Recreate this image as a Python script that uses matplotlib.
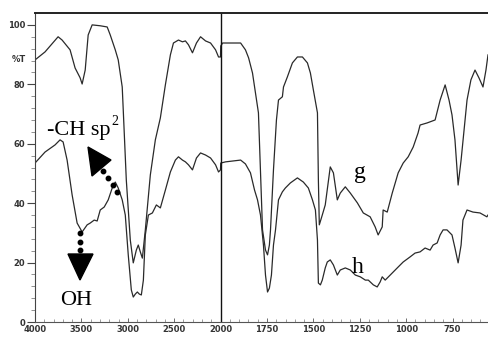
import numpy as np
import matplotlib
matplotlib.use("Agg")
import matplotlib.pyplot as plt
from matplotlib.ticker import FixedLocator, NullFormatter
from matplotlib.lines import Line2D
from matplotlib.patches import Polygon

# spectrum g (upper trace): wavenumber (cm-1) and %T
g_wn = [4000, 3892, 3751, 3708, 3622, 3568, 3514, 3492, 3459, 3427, 3384, 3297, 3222,
        3189, 3135, 3103, 3060, 3049, 3016, 2973, 2941, 2908, 2887, 2865, 2843, 2811,
        2757, 2703, 2649, 2595, 2541, 2508, 2454, 2411, 2379, 2346, 2303, 2260, 2216,
        2162, 2108, 2054, 2022, 2001, 1999, 1989, 1962, 1892, 1866, 1849, 1828, 1812,
        1796, 1774, 1758, 1747, 1737, 1731, 1715, 1699, 1688, 1667, 1661, 1640, 1613,
        1586, 1559, 1532, 1516, 1500, 1478, 1473, 1468, 1452, 1436, 1409, 1392, 1371,
        1355, 1328, 1301, 1263, 1231, 1194, 1167, 1151, 1129, 1124, 1102, 1075, 1043,
        1016, 989, 962, 936, 925, 887, 844, 817, 790, 769, 753, 737, 720, 704, 688,
        672, 651, 629, 608, 586, 570, 559]
g_t = [88.2, 90.9, 96.0, 94.9, 91.6, 85.5, 82.2, 80.1, 84.8, 96.6, 100.0, 99.7, 99.3,
       96.6, 91.6, 88.2, 79.1, 71.4, 47.8, 27.6, 19.9, 24.2, 25.9, 23.6, 21.5, 31.0,
       49.5, 61.3, 68.7, 79.8, 89.9, 93.9, 94.9, 94.3, 94.6, 93.3, 90.6, 93.9, 96.0,
       94.6, 93.9, 91.6, 89.2, 89.2, 92.9, 93.9, 93.9, 93.9, 91.6, 88.9, 83.8, 77.1,
       70.4, 31.0, 24.2, 22.6, 25.9, 31.0, 51.2, 68.0, 74.7, 75.8, 79.1, 82.5, 87.2,
       89.2, 89.2, 87.2, 83.8, 78.1, 70.4, 47.8, 32.7, 36.0, 39.4, 52.2, 50.2, 41.1,
       43.4, 45.5, 43.4, 40.1, 36.7, 35.4, 32.0, 29.3, 32.0, 37.7, 37.0, 43.4, 50.2,
       53.5, 55.6, 58.9, 63.6, 66.3, 67.0, 68.0, 74.7, 79.8, 74.7, 69.7, 61.3, 46.1,
       54.5, 64.6, 74.7, 81.5, 84.8, 82.2, 79.1, 84.8, 89.9]

# spectrum h (lower trace)
h_wn = [4000, 3892, 3784, 3730, 3697, 3654, 3600, 3546, 3492, 3438, 3405, 3362, 3330,
        3297, 3254, 3211, 3168, 3135, 3103, 3060, 3027, 2995, 2962, 2941, 2919, 2897,
        2876, 2854, 2832, 2811, 2778, 2735, 2692, 2649, 2595, 2541, 2487, 2454, 2411,
        2379, 2346, 2303, 2260, 2216, 2162, 2108, 2054, 2022, 2001, 1999, 1973, 1892,
        1866, 1839, 1817, 1801, 1785, 1769, 1758, 1747, 1737, 1726, 1715, 1704, 1688,
        1667, 1651, 1624, 1586, 1554, 1527, 1505, 1489, 1478, 1473, 1462, 1452, 1436,
        1425, 1409, 1392, 1371, 1355, 1328, 1301, 1274, 1247, 1220, 1204, 1177, 1156,
        1140, 1129, 1113, 1086, 1048, 1016, 979, 952, 925, 898, 871, 855, 833, 817,
        801, 780, 753, 737, 720, 704, 694, 672, 640, 602, 565, 559]
h_t = [53.5, 57.2, 59.6, 61.3, 60.6, 54.5, 42.8, 33.3, 30.3, 32.7, 33.3, 34.3, 34.0,
       37.7, 38.7, 41.1, 45.1, 47.1, 45.1, 41.1, 36.0, 22.6, 10.8, 8.4, 9.4, 10.1,
       9.4, 9.1, 14.1, 29.3, 36.0, 36.7, 39.4, 38.4, 44.4, 50.5, 54.5, 55.6, 54.5,
       53.9, 52.9, 51.2, 55.2, 56.9, 56.2, 55.2, 52.9, 50.5, 51.2, 53.5, 53.9, 54.5,
       53.2, 50.2, 44.4, 41.1, 36.0, 25.9, 15.8, 10.1, 11.4, 15.8, 25.9, 31.0, 41.1,
       43.8, 45.1, 46.8, 48.5, 47.1, 45.1, 41.1, 37.7, 27.6, 13.1, 12.5, 14.1, 18.2,
       20.2, 20.9, 19.2, 15.8, 17.5, 18.2, 17.5, 15.8, 15.2, 14.1, 14.1, 12.5, 11.8,
       13.5, 15.2, 14.1, 15.8, 18.2, 20.2, 21.9, 23.2, 23.6, 24.9, 24.2, 25.9, 26.6,
       29.3, 31.0, 31.0, 29.3, 24.9, 19.9, 25.9, 34.3, 37.7, 37.0, 36.7, 35.4, 36.0]

major_wn = [4000, 3500, 3000, 2500, 2000, 1750, 1500, 1250, 1000, 750]
y_ticks = [0, 20, 40, 60, 80, 100]


# FTIR chart: below 2000 cm-1 the axis is expanded 2x
def fwd(w):
    w = np.asarray(w, dtype=float)
    return np.where(w >= 2000, w, 2 * w - 2000)


def inv(u):
    u = np.asarray(u, dtype=float)
    return np.where(u >= 2000, u, (u + 2000) / 2)


W, H = 488, 343
fig = plt.figure(figsize=(W / 100, H / 100), dpi=100)
ax = fig.add_axes([35 / W, 1 - 322 / H, 1 - 35 / W, (322 - 13) / H])

ax.set_xscale('function', functions=(fwd, inv))
ax.plot(g_wn, g_t, color='#2a2a2a', lw=0.9)
ax.plot(h_wn, h_t, color='#2a2a2a', lw=0.9)
ax.axvline(2000, color='#111111', lw=1.0)

ax.set_xlim(4000, 559)
ax.set_ylim(0, 104)

ax.spines['right'].set_visible(False)
ax.spines['top'].set_linewidth(1.4)
ax.spines['top'].set_color('#222222')
ax.spines['left'].set_color('#444444')
ax.spines['bottom'].set_color('#555555')
ax.spines['bottom'].set_linestyle((0, (2, 1)))

tick_font = dict(family=['Liberation Sans Narrow', 'DejaVu Sans'], size=6, weight='bold')
ax.xaxis.set_major_locator(FixedLocator(major_wn))
minor = list(np.arange(3900, 2000, -100)) + list(np.arange(1950, 560, -50))
ax.xaxis.set_minor_locator(FixedLocator(minor))
ax.xaxis.set_minor_formatter(NullFormatter())
ax.set_xticklabels([str(v) for v in major_wn], fontdict=tick_font, color='#333333')
ax.tick_params(axis='x', which='major', direction='in', length=3, width=0.6, pad=2, colors='#555555')
ax.tick_params(axis='x', which='minor', direction='in', length=2, width=0.5, colors='#777777')

ax.set_yticks(y_ticks)
ax.set_yticklabels([str(v) for v in y_ticks], fontdict=tick_font, color='#333333')
ax.set_yticks(np.arange(0, 104, 4), minor=True)
ax.tick_params(axis='y', which='major', direction='out', length=6, width=0.8, pad=1, colors='#444444')
ax.tick_params(axis='y', which='minor', direction='out', length=3, width=0.5, colors='#666666')
for lab in ax.get_xticklabels() + ax.get_yticklabels():
    lab.set_color('#333333')

fig.text(12 / W, 1 - 60 / H, '%T', fontdict=tick_font, color='#333333', va='center')


def fp(x, y):
    return (x / W, 1 - y / H)


serif = dict(family=['Liberation Serif', 'DejaVu Serif'], color='black')
fig.text(*fp(47, 135), '-CH sp', fontsize=16, **serif)
fig.text(*fp(111, 125), '2', fontsize=10, **serif)
fig.text(*fp(354, 178), 'g', fontsize=17, **serif)
fig.text(*fp(352, 273), 'h', fontsize=17, **serif)
fig.text(*fp(60, 305), 'OH', fontsize=16, **serif)

# dotted arrows
for pts in ([(117, 192), (113, 185), (108, 178), (103, 171)],
            [(80, 233), (80, 242), (80, 250)]):
    xs, ys = zip(*[fp(x, y) for x, y in pts])
    fig.add_artist(Line2D(xs, ys, ls='none', marker='o', ms=3.2, color='black',
                          transform=fig.transFigure))
fig.add_artist(Polygon([fp(88, 147), fp(111, 160), fp(92, 176)], closed=True,
                       color='black', transform=fig.transFigure))
fig.add_artist(Polygon([fp(68, 254), fp(93, 254), fp(80, 280)], closed=True,
                       color='black', transform=fig.transFigure))

fig.savefig('out.png', dpi=100)
